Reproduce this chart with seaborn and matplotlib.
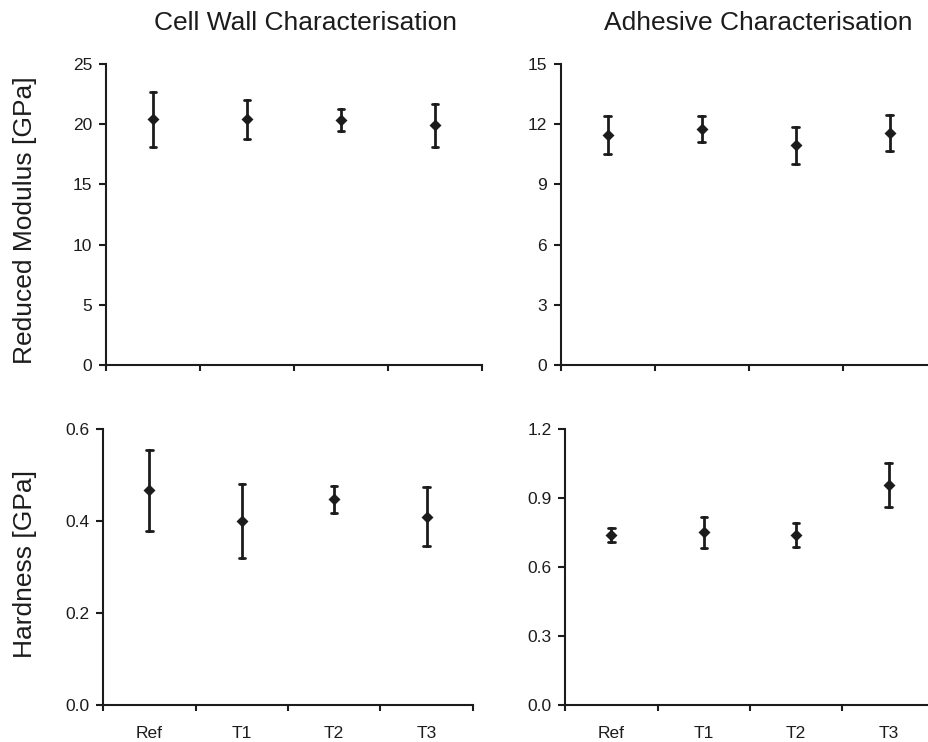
import matplotlib
matplotlib.use("Agg")
import matplotlib.pyplot as plt
import seaborn as sns
import pandas as pd

# ---- data ----
categories = ["Ref", "T1", "T2", "T3"]

cw_modulus_mean = [20.4, 20.4, 20.35, 19.9]
cw_modulus_err = [2.3, 1.65, 0.88, 1.8]

ad_modulus_mean = [11.47, 11.75, 10.95, 11.55]
ad_modulus_err = [0.95, 0.65, 0.91, 0.9]

cw_hardness_mean = [0.467, 0.400, 0.447, 0.409]
cw_hardness_err = [0.088, 0.080, 0.030, 0.064]

ad_hardness_mean = [0.737, 0.751, 0.739, 0.955]
ad_hardness_err = [0.031, 0.068, 0.052, 0.096]

col_titles = ["Cell Wall Characterisation", "Adhesive Characterisation"]
row_labels = ["Reduced Modulus [GPa]", "Hardness [GPa]"]

tl_yticks = [0, 5, 10, 15, 20, 25]
tr_yticks = [0, 3, 6, 9, 12, 15]
bl_yticks = [0.0, 0.2, 0.4, 0.6]
br_yticks = [0.0, 0.3, 0.6, 0.9, 1.2]
bl_ylabels = ["0.0", "0.2", "0.4", "0.6"]
br_ylabels = ["0.0", "0.3", "0.6", "0.9", "1.2"]


def long_frame(means, errs):
    rows = []
    for c, m, e in zip(categories, means, errs):
        rows += [(c, m - e), (c, m), (c, m + e)]
    return pd.DataFrame(rows, columns=["cat", "val"])


sns.set_style("ticks")
plt.rcParams["font.family"] = ["Liberation Sans", "DejaVu Sans"]
INK = "#1c1c1c"

fig = plt.figure(figsize=(9.29, 7.42), dpi=100)

panels = [
    ([106 / 929, 1 - 365 / 742, 376 / 929, 301 / 742], cw_modulus_mean, cw_modulus_err,
     tl_yticks, [str(t) for t in tl_yticks], False),
    ([560.7 / 929, 1 - 365 / 742, 376 / 929, 301 / 742], ad_modulus_mean, ad_modulus_err,
     tr_yticks, [str(t) for t in tr_yticks], False),
    ([103.3 / 929, 1 - 704.7 / 742, 369.4 / 929, 275.7 / 742], cw_hardness_mean, cw_hardness_err,
     bl_yticks, bl_ylabels, True),
    ([565.3 / 929, 1 - 704.7 / 742, 369.4 / 929, 275.7 / 742], ad_hardness_mean, ad_hardness_err,
     br_yticks, br_ylabels, True),
]

for rect, means, errs, yt, ylab, show_x in panels:
    ax = fig.add_axes(rect)
    df = long_frame(means, errs)
    sns.pointplot(
        data=df, x="cat", y="val", order=categories, ax=ax,
        estimator="median", errorbar=lambda v: (v.min(), v.max()),
        linestyle="none", marker="D", markersize=4.3, color=INK,
        capsize=0.07, err_kws={"linewidth": 2.0},
    )
    ax.set_xlim(-0.5, 3.5)
    ax.set_ylim(yt[0], yt[-1])
    ax.set_yticks(yt)
    ax.set_yticklabels(ylab)
    ax.set_xticks([-0.5, 0.5, 1.5, 2.5, 3.5])
    ax.set_xticklabels([])
    if show_x:
        ax.set_xticks(range(len(categories)), categories, minor=True)
    else:
        ax.set_xticks(range(len(categories)), [""] * len(categories), minor=True)
    ax.tick_params(axis="x", which="minor", length=0, pad=15, labelsize=12.5, labelcolor=INK)
    ax.tick_params(axis="x", which="major", direction="out", length=4, width=1.5, color=INK)
    ax.tick_params(axis="y", direction="out", length=5, width=1.5, color=INK,
                   labelsize=12.5, labelcolor=INK, pad=5)
    ax.set_xlabel("")
    ax.set_ylabel("")
    for s in ["top", "right"]:
        ax.spines[s].set_visible(False)
    for s in ["left", "bottom"]:
        ax.spines[s].set_linewidth(1.5)
        ax.spines[s].set_color(INK)
    ax.patch.set_alpha(0)

fig.text(306 / 929, 1 - 30.5 / 742, col_titles[0], ha="center", va="baseline",
         fontsize=19, color=INK)
fig.text(758.5 / 929, 1 - 30 / 742, col_titles[1], ha="center", va="baseline",
         fontsize=19, color=INK)
fig.text(25 / 929, 1 - 220 / 742, row_labels[0], ha="center", va="center",
         rotation=90, fontsize=19, color=INK)
fig.text(25 / 929, 1 - 564 / 742, row_labels[1], ha="center", va="center",
         rotation=90, fontsize=19, color=INK)

fig.savefig("out.png", dpi=100)
